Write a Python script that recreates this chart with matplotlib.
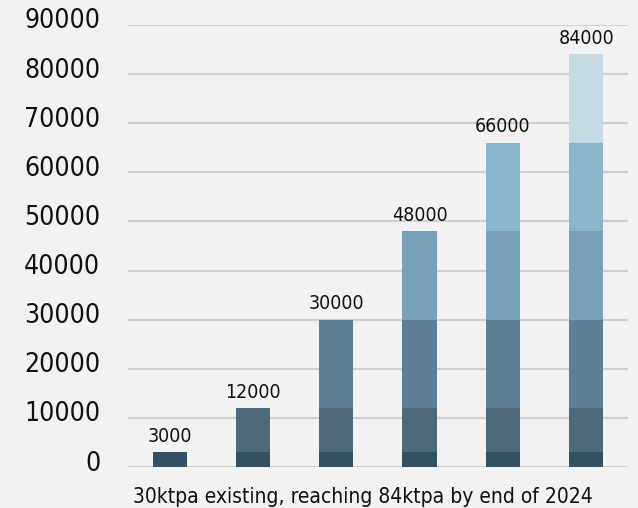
import matplotlib
matplotlib.use("Agg")
import matplotlib.pyplot as plt
from matplotlib.transforms import ScaledTranslation
import numpy as np

# Capacity build-up stages (tonnes per annum)
stages = ["Stage 1", "Stage 2", "Stage 3", "Stage 4", "Stage 5", "Stage 6"]
totals = [3000, 12000, 30000, 48000, 66000, 84000]
# Increment added at each stage; stage k stacks increments 0..k
increments = [3000, 9000, 18000, 18000, 18000, 18000]
layer_colors = ["#33525f", "#4e6a78", "#5d7f96", "#78a1b8", "#8ab5cd", "#c5dae3"]
yticks = [0, 10000, 20000, 30000, 40000, 50000, 60000, 70000, 80000, 90000]
xlabel = "30ktpa existing, reaching 84ktpa by end of 2024"

bg = "#f2f2f2"
fig = plt.figure(figsize=(6.38, 5.08), dpi=100, facecolor=bg)
ax = fig.add_axes([0.2006, 0.0807, 0.7834, 0.8701], facecolor=bg)

x = np.arange(len(stages))
for k in range(len(increments)):
    heights = [increments[k] if i >= k else 0 for i in range(len(stages))]
    bottoms = [sum(increments[:k]) if i >= k else 0 for i in range(len(stages))]
    ax.bar(x, heights, bottom=bottoms, width=0.41, color=layer_colors[k],
           linewidth=0, zorder=3)

for xi, t in zip(x, totals):
    ax.text(xi, t + 1300, f"{t}", ha="center", va="bottom", fontsize=14,
            family="DejaVu Sans", fontstretch="condensed", color="#111111", zorder=4)

ax.set_xlim(-0.5, len(stages) - 0.5)
ax.set_ylim(0, 90000)
ax.set_yticks(yticks)
ax.set_yticklabels([str(v) for v in yticks], fontsize=19, family="DejaVu Sans",
                   fontstretch="condensed")
ax.set_xticks([])
ax.tick_params(axis="y", length=0, pad=20, labelcolor="#111111")
lift = ScaledTranslation(0, 6.5 / 100, fig.dpi_scale_trans)
for lab in ax.get_yticklabels():
    lab.set_transform(lab.get_transform() + lift)
ax.grid(axis="y", color="#d0d0d0", linewidth=1.5, zorder=0)
for s in ax.spines.values():
    s.set_visible(False)

ax.set_xlabel(xlabel, fontsize=15, family="DejaVu Sans", fontstretch="condensed",
              color="#111111", va="baseline")
ax.xaxis.set_label_coords(0.47, -0.0814)

fig.savefig("out.png", dpi=100, facecolor=bg)
